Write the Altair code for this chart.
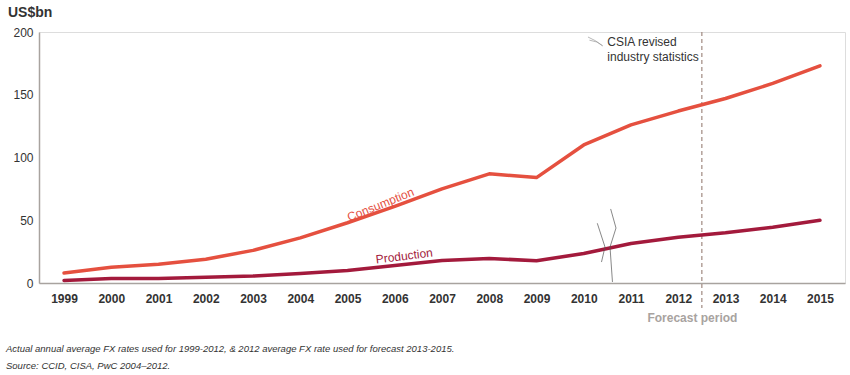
import altair as alt
import pandas as pd

years = list(range(1999, 2016))
consumption = [8, 12.5, 15, 19, 26, 36, 48, 61, 75, 87, 84, 110, 126, 137, 147, 159, 173]
production = [2, 3.5, 3.5, 4.5, 5.5, 7.5, 10, 14, 18, 19.5, 17.8, 23.5, 31.5, 36.5, 40, 44.5, 50]

forecast_start = 2012.5
break_left_x = [2010.287, 2010.45, 2010.376]
break_left_y = [47.6, 28.7, 16.7]
break_right_x = [2010.57, 2010.683, 2010.556, 2010.608]
break_right_y = [59.0, 43.8, 28.7, 0.8]

FONT = "Liberation Sans"
C_RED = "#e5503f"
C_DARK = "#a31a3c"

df = pd.DataFrame({
    "year": years * 2,
    "value": consumption + production,
    "series": ["Consumption"] * len(years) + ["Production"] * len(years),
})

xs = alt.Scale(domain=[1998.47, 2015.53], nice=False, zero=False)
ys = alt.Scale(domain=[0, 200], nice=False)

x_axis = alt.Axis(values=years, format="d", title=None, grid=False, ticks=False,
                  labelFont=FONT, labelFontSize=12, labelFontWeight="bold",
                  labelColor="#333333", labelPadding=10,
                  domainColor="#a8a39f", domainWidth=1.5)
y_axis = alt.Axis(values=[0, 50, 100, 150, 200], title=None, grid=False, ticks=False,
                  labelFont=FONT, labelFontSize=12, labelColor="#333333",
                  labelPadding=6, domainColor="#a8a39f", domainWidth=1.5)

lines = alt.Chart(df).mark_line(strokeWidth=3.5, interpolate="linear",
                                strokeJoin="round", strokeCap="round").encode(
    x=alt.X("year:Q", scale=xs, axis=x_axis),
    y=alt.Y("value:Q", scale=ys, axis=y_axis),
    color=alt.Color("series:N", scale=alt.Scale(domain=["Consumption", "Production"],
                                                range=[C_RED, C_DARK]), legend=None),
)

rule_df = pd.DataFrame({"x": [forecast_start], "y1": [200], "y2": [-20]})
rule = alt.Chart(rule_df).mark_rule(strokeDash=[4, 3], color="#a08a80", strokeWidth=1.2).encode(
    x=alt.X("x:Q", scale=xs), y=alt.Y("y1:Q", scale=ys), y2="y2:Q")

forecast_df = pd.DataFrame({"x": [2012.3], "y": [-28], "t": ["Forecast period"]})
forecast = alt.Chart(forecast_df).mark_text(font=FONT, fontSize=12, fontWeight="bold",
                                            color="#a8a39f", align="center", baseline="middle").encode(
    x=alt.X("x:Q", scale=xs), y=alt.Y("y:Q", scale=ys), text="t:N")

brk_df = pd.DataFrame({
    "x": break_left_x + break_right_x,
    "y": break_left_y + break_right_y,
    "g": ["a"] * len(break_left_x) + ["b"] * len(break_right_x),
    "o": list(range(len(break_left_x))) + list(range(len(break_right_x))),
})
brk = alt.Chart(brk_df).mark_line(color="#555555", strokeWidth=0.7).encode(
    x=alt.X("x:Q", scale=xs), y=alt.Y("y:Q", scale=ys), detail="g:N", order="o:Q")

icon_df = pd.DataFrame({
    "x": [2010.09, 2010.25, 2010.40, 2010.12, 2010.28, 2010.40],
    "y": [196, 193, 189, 193.5, 192, 189],
    "g": ["a", "a", "a", "b", "b", "b"],
    "o": [0, 1, 2, 0, 1, 2],
})
icon = alt.Chart(icon_df).mark_line(color="#999999", strokeWidth=0.7).encode(
    x=alt.X("x:Q", scale=xs), y=alt.Y("y:Q", scale=ys), detail="g:N", order="o:Q")

csia_df = pd.DataFrame({"x": [2010.5, 2010.5], "y": [192, 180.3],
                        "t": ["CSIA revised", "industry statistics"]})
csia = alt.Chart(csia_df).mark_text(font=FONT, fontSize=12, color="#333333",
                                    align="left", baseline="middle").encode(
    x=alt.X("x:Q", scale=xs), y=alt.Y("y:Q", scale=ys), text="t:N")

lab_df = pd.DataFrame({"x": [2005.7], "y": [62.5], "t": ["Consumption"]})
lab_c = alt.Chart(lab_df).mark_text(font=FONT, fontSize=12, color=C_RED, angle=338,
                                    align="center", baseline="middle").encode(
    x=alt.X("x:Q", scale=xs), y=alt.Y("y:Q", scale=ys), text="t:N")
lab2_df = pd.DataFrame({"x": [2006.2], "y": [21.5], "t": ["Production"]})
lab_p = alt.Chart(lab2_df).mark_text(font=FONT, fontSize=12, color=C_DARK, angle=353,
                                     align="center", baseline="middle").encode(
    x=alt.X("x:Q", scale=xs), y=alt.Y("y:Q", scale=ys), text="t:N")

unit = alt.Chart(pd.DataFrame({"t": ["US$bn"]})).mark_text(
    font=FONT, fontSize=14, fontWeight="bold", color="#333333", align="left", baseline="middle"
).encode(x=alt.value(-31), y=alt.value(-19), text="t:N")

notes = alt.Chart(pd.DataFrame({
    "t": ["Actual annual average FX rates used for 1999-2012, & 2012 average FX rate used for forecast 2013-2015.",
          "Source: CCID, CISA, PwC 2004\u20132012."],
    "py": [317, 334],
})).mark_text(font=FONT, fontSize=9.5, fontStyle="italic", color="#333333",
              align="left", baseline="middle").encode(
    x=alt.value(-33), y=alt.Y("py:Q", scale=None), text="t:N")

chart = alt.layer(rule, lines, brk, icon, csia, lab_c, lab_p, forecast, unit, notes).properties(
    width=806, height=251,
    autosize=alt.AutoSizeParams(type="none"),
    padding={"left": 39, "top": 32, "right": 5, "bottom": 92},
).configure_view(stroke=None).configure(background="white")

chart.save("out.html", embed_options={"renderer": "svg", "actions": False})
